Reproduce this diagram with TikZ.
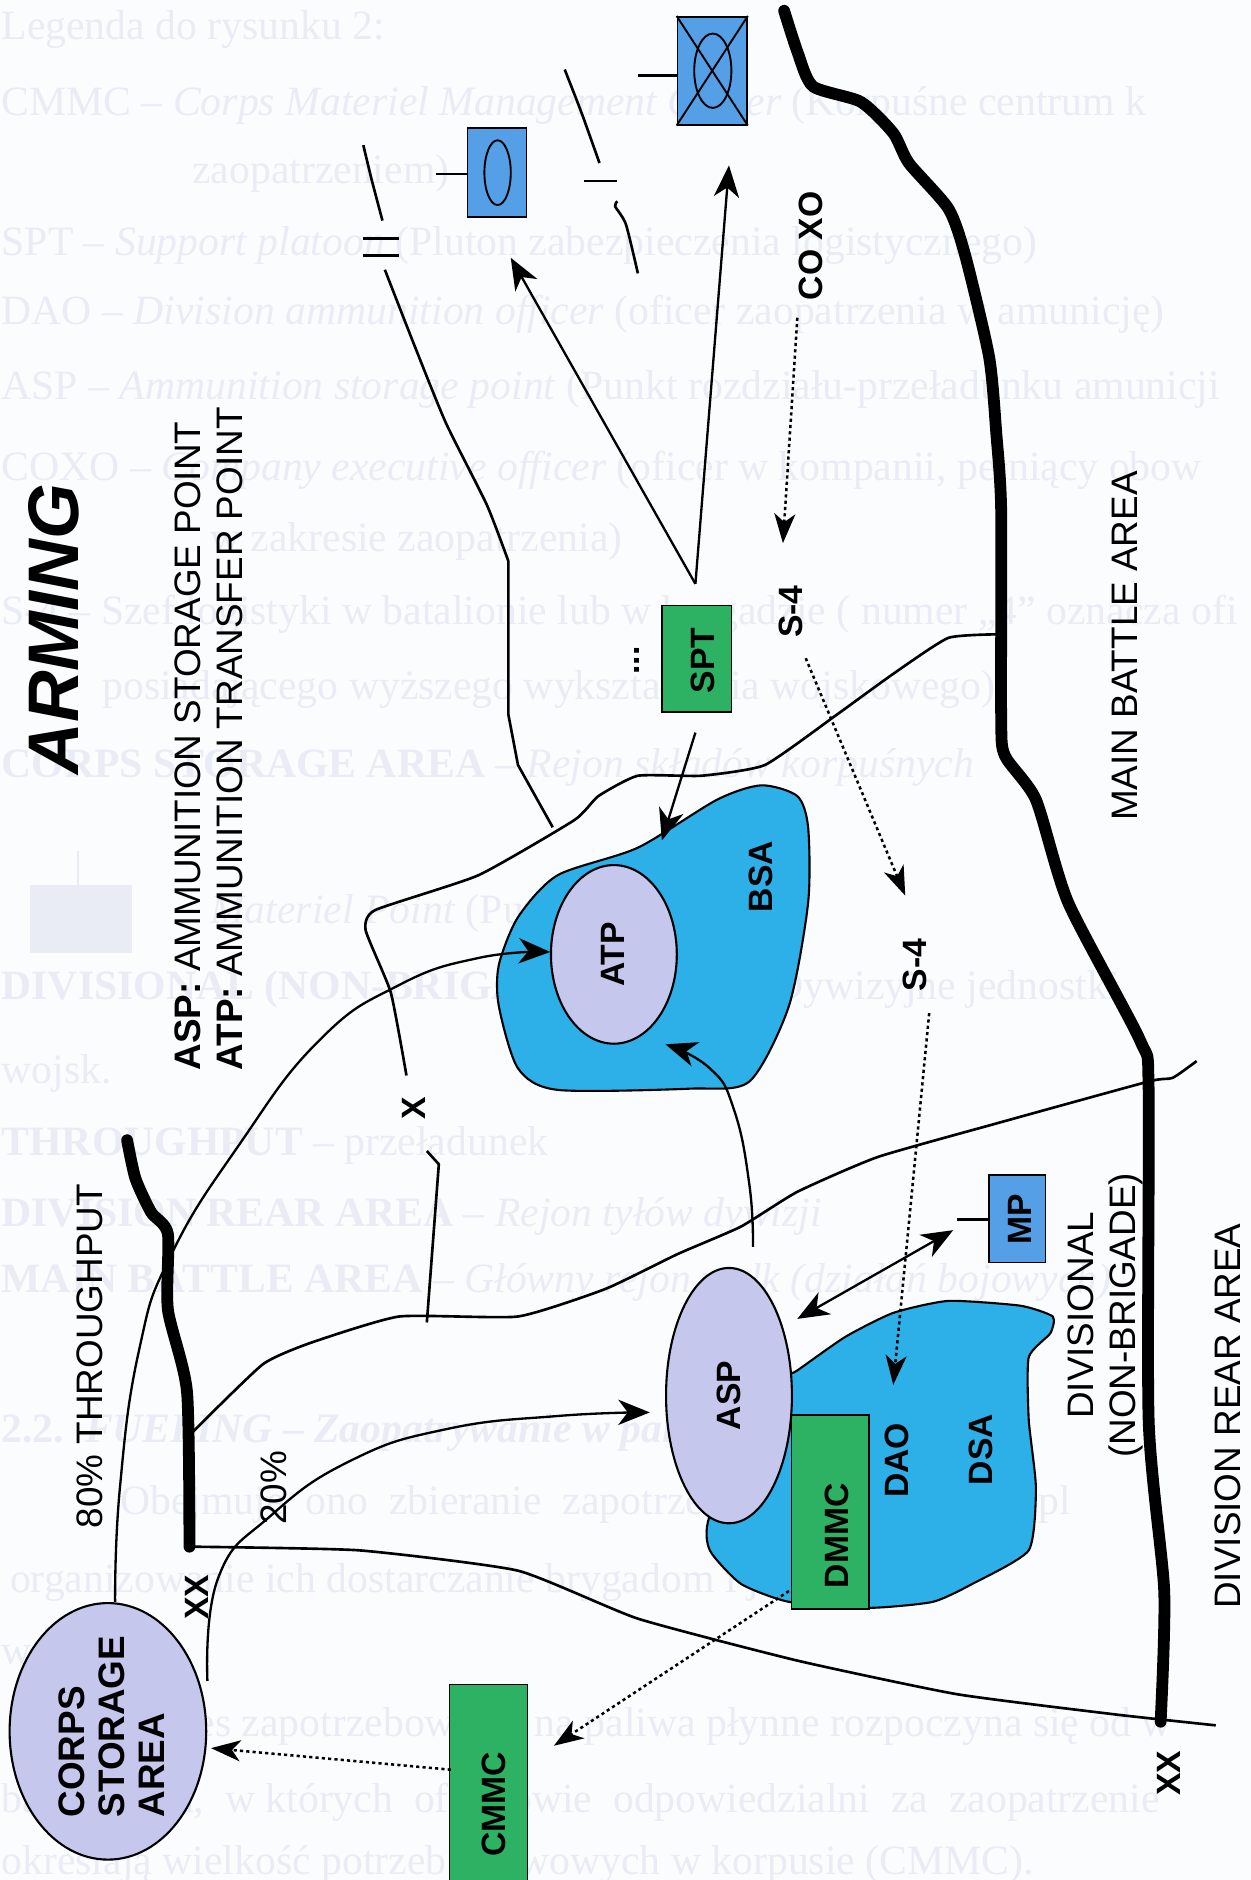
\documentclass[tikz,border=0pt]{standalone}
\usepackage{fontspec}
\setmainfont{Liberation Sans}
\newfontfamily\ghostfont{Liberation Serif}
\usetikzlibrary{shapes.geometric,arrows.meta}
\definecolor{paper}{HTML}{FBFCFE}
\definecolor{ghost}{HTML}{E9ECF5}
\definecolor{lav}{HTML}{C5C8EC}
\definecolor{cyanblob}{HTML}{2DB0E8}
\definecolor{milblue}{HTML}{559FE6}
\definecolor{milgreen}{HTML}{2DB263}
\tikzset{
  ghosttext/.style={anchor=west,inner sep=0,text=ghost,font=\ghostfont\fontsize{19.8}{22}\selectfont},
  lbl/.style={rotate=90,inner sep=0,font=\bfseries\fontsize{16}{19}\selectfont},
  reg/.style={rotate=90,inner sep=0,anchor=west,font=\fontsize{17.5}{20}\selectfont},
  oval/.style={ellipse,draw=black,line width=1pt,fill=lav,inner sep=0},
  blob/.style={draw=black,line width=1pt,fill=cyanblob},
  greenbox/.style={draw=black,line width=.8pt,fill=milgreen},
  bluebox/.style={draw=black,line width=.8pt,fill=milblue},
  thin border/.style={line width=1.25pt,line join=round},
  thick border/.style={line width=5.6pt,line cap=round,line join=round},
  arr/.style={line width=1.1pt,-{Stealth[length=15pt,width=12pt,inset=4.5pt]}},
  darr/.style={line width=1.1pt,{Stealth[length=15pt,width=12pt,inset=4.5pt]}-{Stealth[length=15pt,width=12pt,inset=4.5pt]}},
  dotarr/.style={line width=1.2pt,dash pattern=on 1.5pt off 1.5pt,-{Stealth[length=14pt,width=10pt,inset=4pt]}},
  tick/.style={line width=1.1pt}
}
\begin{document}
\begin{tikzpicture}[x=0.02cm,y=-0.02cm]
\useasboundingbox (0,0) rectangle (1043,1568);
\clip (0,0) rectangle (1043,1568);
\fill[paper] (0,0) rectangle (1043,1568);
% show-through text
\node[ghosttext] (g1) at (1,25) {Legenda do rysunku 2:};
\node[ghosttext] (g2) at (1,88) {CMMC – \textit{Corps Materiel Management Center} (Korpuśne centrum k};
\node[ghosttext] (g3) at (160,145) {zaopatrzeniem)};
\node[ghosttext] (g4) at (1,205) {SPT – \textit{Support platoon} (Pluton zabezpieczenia logistycznego)};
\node[ghosttext] (g5) at (1,262) {DAO – \textit{Division ammunition officer} (oficer zaopatrzenia w amunicję)};
\node[ghosttext] (g6) at (1,325) {ASP – \textit{Ammunition storage point} (Punkt rozdziału-przeładunku amunicji};
\node[ghosttext] (g7) at (1,392) {COXO – \textit{Company executive officer} (oficer w kompanii, pełniący obow};
\node[ghosttext] (g8) at (175,452) {w zakresie zaopatrzenia)};
\node[ghosttext] (g9) at (1,512) {S-4 – Szef logistyki w batalionie lub w brygadzie ( numer „4” oznacza ofi};
\node[ghosttext] (g10) at (85,575) {posiadającego wyższego wykształcenia wojskowego)};
\node[ghosttext] (g11) at (1,640) {\textbf{CORPS STORAGE AREA} – \textit{Rejon składów korpuśnych}};
\fill[ghost] (25,738) rectangle (110,795);
\draw[ghost,line width=1pt] (65,710) -- (65,738);
\node[ghosttext] (g12) at (175,762) {\textit{Materiel Point} (Punkt materiałowy)};
\node[ghosttext] (g13) at (1,825) {\textbf{DIVISIONAL (NON-BRIGADE) UNITS} – Dywizyjne jednostki};
\node[ghosttext] (g14) at (1,895) {wojsk.};
\node[ghosttext] (g15) at (1,955) {\textbf{THROUGHPUT} – przeładunek};
\node[ghosttext] (g16) at (1,1015) {\textbf{DIVISION REAR AREA} – \textit{Rejon tyłów dywizji}};
\node[ghosttext] (g17) at (1,1070) {\textbf{MAIN BATTLE AREA} – \textit{Główny rejon walk (działań bojowych)}};
\node[ghosttext] (g18) at (1,1195) {\textbf{2.2.\ \ \textit{FUELING} – \textit{Zaopatrywanie w paliwo}}};
\node[ghosttext] (g19) at (100,1255) {Obejmuje\ \ ono\ \ zbieranie\ \ zapotrzebowań\ \ na\ \ paliwa,\ \ pl};
\node[ghosttext] (g20) at (8,1320) {organizowanie ich dostarczanie brygadom i jednostkom};
\node[ghosttext] (g21) at (1,1380) {wojsk.};
\node[ghosttext] (g22) at (100,1440) {Proces zapotrzebowania na paliwa płynne rozpoczyna się od w};
\node[ghosttext] (g23) at (1,1503) {batalionach,\ \ w których\ \ oficerowie\ \ odpowiedzialni\ \ za\ \ zaopatrzenie};
\node[ghosttext] (g24) at (1,1555) {określają wielkość potrzeb paliwowych w korpusie (CMMC).};

% blobs
\draw[blob] plot[smooth cycle,tension=.45] coordinates {(635,655)(665,664)(674,690)(674,753)(658,839)(625,902)(575,908)(465,909)(432,891)(416,839)(416,805)(432,765)(465,730)(532,707)(598,667)};
\draw[blob] plot[smooth cycle,tension=.35] coordinates {(640,1160)(665,1143)(705,1115)(745,1095)(791,1085)(851,1089)(878,1098)(876,1112)(858,1132)(858,1184)(864,1241)(858,1293)(811,1321)(778,1336)(725,1341)(658,1336)(618,1321)(592,1293)(592,1264)};

% thin boundaries
\draw[thin border] plot[smooth,tension=.35] coordinates {(303,121)(310,150)(319,184)};
\draw[thin border] plot[smooth,tension=.35] coordinates {(321,225)(346,289)(372,353)(406,421)(424,468)};
\draw[thin border] (424,468) -- (424,596) -- (432,638) -- (461,690);
\draw[thin border] plot[smooth,tension=.3] coordinates {(835,529)(791,532)(745,562)(698,596)(638,638)(585,647)(532,647)(499,664)(479,684)(399,730)(313,759)(305,776)(326,828)(339,897)};
\draw[thin border] (356,960) -- (366,971) -- (356,1103);
\draw[thin border] plot[smooth,tension=.3] coordinates {(998,885)(978,899)(958,902)(831,937)(732,965)(665,994)(618,1023)(565,1046)(505,1075)(432,1098)(333,1098)(259,1120)(219,1138)(160,1195)};
\draw[thin border] plot[smooth,tension=.3] coordinates {(160,1290)(299,1293)(432,1310)(532,1350)(665,1385)(798,1413)(931,1430)(1014,1439)};
\draw[thin border] plot[smooth,tension=.4] coordinates {(471,58)(485,94)(500,136)};
\draw[thin border] plot[smooth,tension=.4] coordinates {(515,168)(513,172)(522,187)(532,228)};
\draw[tick] (303,199) -- (333,199);
\draw[tick] (303,213) -- (333,213);
\draw[tick] (487,151) -- (515,151);

% thick boundaries
\draw[thick border] plot[smooth,tension=.4] coordinates {(654,9)(665,43)(678,72)(718,85)(745,111)(758,136)(791,174)(805,213)(825,298)(831,362)(835,425)(835,596)(838,630)(864,667)(891,753)(951,868)(958,908)(958,1184)(971,1327)(968,1436)};
\draw[thick border] plot[smooth,tension=.4] coordinates {(106,951)(113,983)(126,1011)(140,1029)(140,1092)(156,1161)(158,1290)};

% green and blue units
\node[greenbox,minimum width=1.3cm,minimum height=3.24cm,inner sep=0] (dmmc) at (692.5,1261) {};
\node[greenbox,minimum width=1.3cm,minimum height=3.4cm,inner sep=0] (cmmc) at (407.5,1490) {};
\node[greenbox,minimum width=1.16cm,minimum height=1.78cm,inner sep=0] (spt) at (581,549.5) {};
\node[bluebox,minimum width=.94cm,minimum height=1.46cm,inner sep=0] (mp) at (848.5,1016.5) {};
\node[bluebox,minimum width=.98cm,minimum height=1.48cm,inner sep=0] (unita) at (414.5,144) {};
\node[ellipse,draw=black,line width=.9pt,minimum width=.44cm,minimum height=1.08cm,inner sep=0] (unitae) at (415,144) {};
\node[bluebox,minimum width=1.16cm,minimum height=1.8cm,inner sep=0] (unitb) at (594,59) {};
\node[ellipse,draw=black,line width=.9pt,minimum width=.62cm,minimum height=1.24cm,inner sep=0] (unitbe) at (594.5,59) {};
\draw[line width=.9pt] (unitb.north west) -- (unitb.south east);
\draw[line width=.9pt] (unitb.north east) -- (unitb.south west);

% ovals
\node[oval,minimum width=3.28cm,minimum height=4.28cm] (corps) at (90,1444) {};
\node[oval,minimum width=2.1cm,minimum height=4.26cm] (aspn) at (608,1164) {};
\node[oval,minimum width=2.1cm,minimum height=2.98cm] (atpn) at (512,796) {};

% unit tabs
\coordinate (mptab) at (798,1017);
\coordinate (atab) at (364,145);
\coordinate (btab) at (532,63);
\draw[tick] (mptab) -- (mptab -| mp.west);
\draw[tick] (atab) -- (atab -| unita.west);
\draw[tick] (btab) -- (btab -| unitb.west);

% solid arrows
\coordinate (sptfan) at (580,487);
\coordinate (fanA) at (426,215);
\coordinate (fanB) at (608,138);
\coordinate (sptlow) at (580,611);
\coordinate (bsahead) at (552,701);
\coordinate (aspmpA) at (665,1100);
\coordinate (aspmpB) at (795,1026);
\draw[arr] (sptfan) -- (fanA);
\draw[arr] (sptfan) -- (fanB);
\draw[arr] (sptlow) -- (bsahead);
\draw[darr] (aspmpA) -- (aspmpB);
\draw[arr] plot[smooth,tension=.8] coordinates {(96,1336)(100,1241)(116,1126)(143,1046)(200,954)(266,868)(332,822)(399,799)(459,794)};
\draw[arr] plot[smooth,tension=.8] coordinates {(173,1402)(182,1316)(226,1264)(293,1218)(372,1192)(465,1181)(542,1178)};
\draw[arr] plot[smooth,tension=.8] coordinates {(628,1040)(625,988)(612,925)(592,891)(555,871)};

% dotted arrows
\coordinate (d1a) at (665,265);
\coordinate (d1b) at (653,453);
\coordinate (d2a) at (672,549);
\coordinate (d2b) at (755,747);
\coordinate (d3a) at (775,845);
\coordinate (d3b) at (745,1155);
\coordinate (d4a) at (658,1327);
\coordinate (d4b) at (462,1456);
\coordinate (d5a) at (376,1476);
\coordinate (d5b) at (176,1458);
\draw[dotarr] (d1a) -- (d1b);
\draw[dotarr] (d2a) -- (d2b);
\draw[dotarr] (d3a) -- (d3b);
\draw[dotarr] (d4a) -- (d4b);
\draw[dotarr] (d5a) -- (d5b);

% labels
\node[rotate=90,inner sep=0,font=\bfseries\itshape\fontsize{34}{38}\selectfont] (title) at (45,525) {ARMING};
\node[reg] (asplegend) at (157,893) {\textbf{ASP:} AMMUNITION STORAGE POINT};
\node[reg] (atplegend) at (192,893) {\textbf{ATP:} AMMUNITION TRANSFER POINT};
\node[reg] (thru) at (75,1275) {80\% THROUGHPUT};
\node[reg] (twenty) at (228,1272) {20\%};
\node[lbl] (xxa) at (164,1332) {XX};
\node[lbl] (xa) at (345,924) {X};
\node[lbl] (xxb) at (975,1479) {XX};
\node[lbl,align=left,font=\bfseries\fontsize{17.5}{19}\selectfont,anchor=center] (corpsl) at (93,1440) {CORPS\\STORAGE\\AREA};
\node[lbl] (cmmcl) at (412,1505) {CMMC};
\node[lbl] (dmmcl) at (698,1281) {DMMC};
\node[lbl] (asplabel) at (608,1164) {ASP};
\node[lbl] (atplabel) at (511,796) {ATP};
\node[lbl] (bsal) at (635,731) {BSA};
\node[lbl] (dsal) at (818,1209) {DSA};
\node[lbl] (daol) at (748,1218) {DAO};
\node[lbl] (mpl) at (851,1017) {MP};
\node[lbl] (sptl) at (586,551) {SPT};
\node[lbl] (dots) at (531,551) {...};
\node[lbl] (coxo) at (676,205) {CO XO};
\node[lbl] (s4a) at (660,510) {S-4};
\node[lbl] (s4b) at (763,805) {S-4};
\node[reg] (mba) at (938,685) {MAIN BATTLE AREA};
\node[reg,anchor=center,align=center] (dnb) at (922,1097) {DIVISIONAL\\(NON-BRIGADE)};
\node[reg] (dra) at (1024,1342) {DIVISION REAR AREA};
\end{tikzpicture}
\end{document}
